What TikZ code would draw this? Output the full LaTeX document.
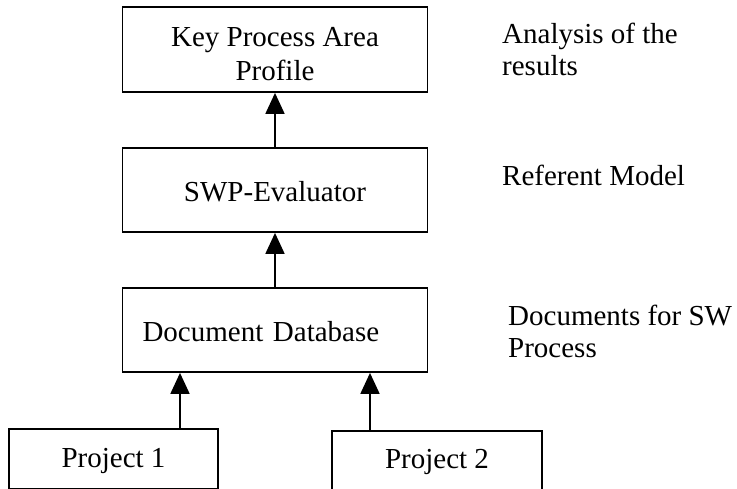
\documentclass[tikz,border=0pt]{standalone}
\usepackage{fontspec}
\setmainfont{Liberation Serif}
\usetikzlibrary{arrows.meta}
\begin{document}
\begin{tikzpicture}[x=1pt,y=-1pt,
  box/.style={draw,line width=1.8pt,minimum width=305pt,minimum height=84pt,inner sep=0pt,align=center,text height=24pt,text depth=2pt,font=\fontsize{29}{34}\selectfont},
  pbox/.style={draw,line width=1.8pt,minimum height=60pt,inner sep=0pt,text height=24pt,text depth=8pt,font=\fontsize{29}{34}\selectfont},
  lbl/.style={anchor=base west,inner sep=0pt,font=\fontsize{29}{34}\selectfont},
  ctr/.style={anchor=base,inner sep=0pt,font=\fontsize{29}{34}\selectfont},
  arr/.style={line width=1.8pt,-{Triangle[width=19pt,length=21pt]}}]
\useasboundingbox (0,0) rectangle (737,488);
\node[box,minimum height=85pt] (kpa) at (275,49.5) {};
\node[ctr] (k1) at (275,46) {Key Process Area};
\node[ctr] (k2) at (275,80) {Profile};
\node[box] (swp) at (275,190) {SWP-Evaluator};
\node[box,text width=265pt,inner xsep=20pt,align=left] (doc) at (275,330) {Document Database};
\node[pbox,minimum width=209pt] (p1) at (113.5,459) {Project 1};
\node[pbox,minimum width=210pt,text depth=10pt] (p2) at (437,461) {Project 2};
\draw[arr] (swp.north) -- (kpa.south);
\draw[arr] (doc.north) -- (swp.south);
\draw[arr] ([xshift=66.5pt]p1.north) -- ([xshift=66.5pt]p1.north |- doc.south);
\draw[arr] ([xshift=-67pt]p2.north) -- ([xshift=-67pt]p2.north |- doc.south);
\node[lbl] (a1) at (502,43) {Analysis of the};
\node[lbl] (a2) at (502,75) {results};
\node[lbl] (rm) at (502,185) {Referent Model};
\node[lbl] (d1) at (508,325) {Documents for SW};
\node[lbl] (d2) at (508,357) {Process};
\end{tikzpicture}
\end{document}
